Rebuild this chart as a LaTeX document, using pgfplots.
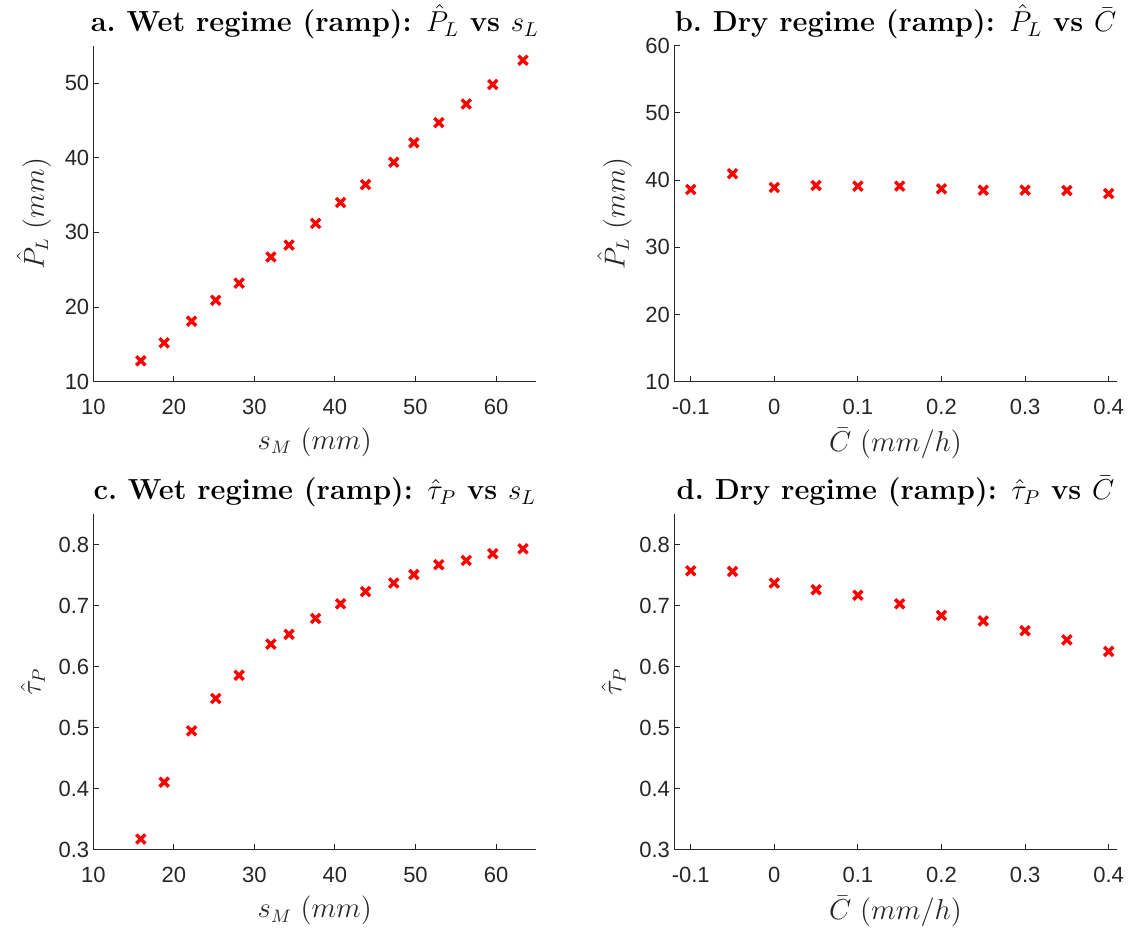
\documentclass[border=0pt]{standalone}
\usepackage{pgfplots}
\pgfplotsset{compat=1.18}
\usepackage{pgfplotstable}
\usepackage{fontspec}
\newfontfamily\helv{Liberation Sans}
\definecolor{axgray}{RGB}{38,38,38}
\definecolor{mred}{RGB}{255,0,0}

\pgfplotstableread{
x y
15.9 12.8
18.8 15.2
22.2 18.1
25.2 20.9
28.1 23.2
32.05 26.7
34.3 28.3
37.6 31.2
40.7 34.0
43.8 36.4
47.3 39.4
49.8 42.0
52.9 44.7
56.3 47.2
59.6 49.8
63.35 53.05
}\tabA

\pgfplotstableread{
x y
-0.10 38.6
-0.05 40.95
0.00 38.9
0.05 39.2
0.10 39.1
0.15 39.1
0.20 38.7
0.25 38.5
0.30 38.5
0.35 38.45
0.40 38.0
}\tabB

\pgfplotstableread{
x y
15.9 0.318
18.8 0.411
22.2 0.495
25.2 0.548
28.1 0.586
32.05 0.637
34.3 0.653
37.6 0.679
40.7 0.703
43.8 0.723
47.3 0.737
49.8 0.751
52.9 0.767
56.3 0.774
59.6 0.785
63.35 0.793
}\tabC

\pgfplotstableread{
x y
-0.10 0.757
-0.05 0.756
0.00 0.737
0.05 0.726
0.10 0.717
0.15 0.703
0.20 0.684
0.25 0.675
0.30 0.659
0.35 0.644
0.40 0.625
}\tabD

\pgfplotsset{
  mystyle/.style={
    scale only axis, width=221.5pt, height=168pt, anchor=south west,
    axis x line*=bottom, axis y line*=left,
    axis line style={axgray, line width=0.5pt, -},
    tick align=inside, major tick length=3pt,
    tick style={axgray, line width=0.5pt},
    ticklabel style={font=\helv\fontsize{11}{13}\selectfont, text=axgray},
    xticklabel style={yshift=-5pt},
    yticklabel style={xshift=1.5pt},
    /pgf/number format/assume math mode=true,
    title style={font=\fontsize{14.5}{16}\selectfont\bfseries, at={(0.5,1)}, anchor=base, yshift=1pt},
    label style={font=\fontsize{13.5}{16}\selectfont, text=axgray},
    clip=false,
  },
  wetx/.style={xmin=10, xmax=65, xtick={10,20,30,40,50,60},
    xlabel={$s_M~(mm)$}},
  dryx/.style={xmin=-0.12, xmax=0.41, xtick={-0.1,0,0.1,0.2,0.3,0.4},
    xticklabel style={/pgf/number format/.cd, fixed, precision=1},
    xlabel={$\bar{C}~(mm/h)$}},
  tauy/.style={ymin=0.3, ymax=0.85, ytick={0.3,0.4,0.5,0.6,0.7,0.8},
    yticklabel style={/pgf/number format/.cd, fixed, fixed zerofill, precision=1},
    ylabel={$\hat{\tau}_P$}},
  pts/.style={only marks, mark=x, mark size=3.2pt, mred, mark options={line width=1.7pt, mred}},
}

\begin{document}
\begin{tikzpicture}
\path[use as bounding box] (0,0) rectangle (566.5pt,464.5pt);

\begin{axis}[mystyle, wetx, at={(46.65pt,273.65pt)},
  ymin=10, ymax=55, ytick={10,20,30,40,50},
  ylabel={$\hat{P}_L~(mm)$},
  title={a.~Wet regime (ramp): $\hat{P}_L$ vs $s_L$}]
\addplot[pts] table[x=x,y=y] {\tabA};
\end{axis}

\begin{axis}[mystyle, dryx, at={(337pt,273.65pt)},
  ymin=10, ymax=60, ytick={10,20,30,40,50,60},
  ylabel={$\hat{P}_L~(mm)$},
  title={b.~Dry regime (ramp): $\hat{P}_L$ vs $\bar{C}$}]
\addplot[pts] table[x=x,y=y] {\tabB};
\end{axis}

\begin{axis}[mystyle, wetx, tauy, at={(46.65pt,39.5pt)},
  title={c.~Wet regime (ramp): $\hat{\tau}_P$ vs $s_L$}]
\addplot[pts] table[x=x,y=y] {\tabC};
\end{axis}

\begin{axis}[mystyle, dryx, tauy, at={(337pt,39.5pt)},
  title={d.~Dry regime (ramp): $\hat{\tau}_P$ vs $\bar{C}$}]
\addplot[pts] table[x=x,y=y] {\tabD};
\end{axis}
\end{tikzpicture}
\end{document}
